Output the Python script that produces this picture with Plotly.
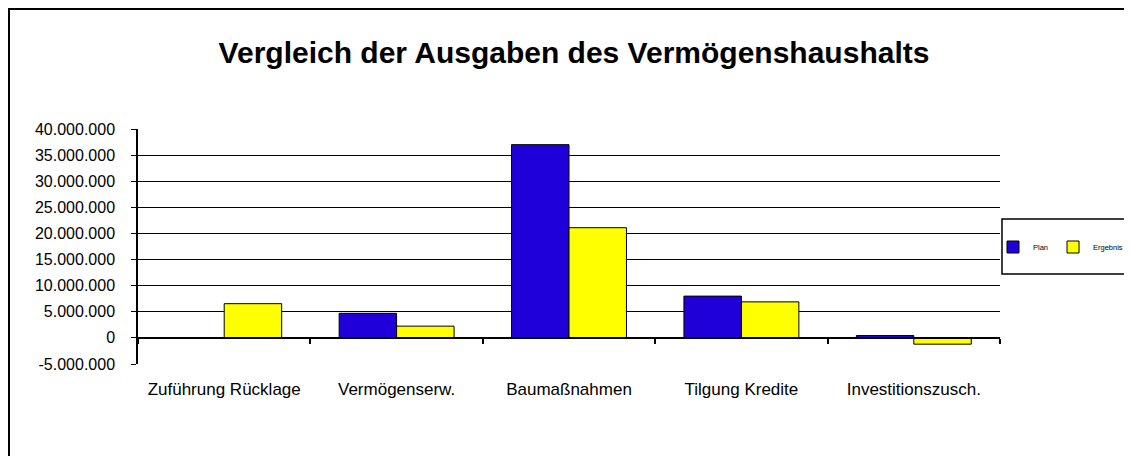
import plotly.graph_objects as go

categories = ["Zuführung Rücklage", "Vermögenserw.", "Baumaßnahmen", "Tilgung Kredite", "Investitionszusch."]
plan = [0, 4700000, 37000000, 8000000, 450000]
ergebnis = [6550000, 2250000, 21100000, 6900000, -1200000]
y_tickvals = [-5000000, 0, 5000000, 10000000, 15000000, 20000000, 25000000, 30000000, 35000000, 40000000]
y_ticktext = ["-5.000.000", "0", "5.000.000", "10.000.000", "15.000.000", "20.000.000",
              "25.000.000", "30.000.000", "35.000.000", "40.000.000"]

# the page body adds an 8px margin; the figure is sized/placed to compensate
OFF = 8
W, H = 1132 - OFF, 456 - OFF
L, R, T, B = 138 - OFF, 132, 129 - OFF, 92
pw, ph = W - L - R, H - T - B

def px_x(p):  # reference screen pixel -> paper x
    return (p - OFF - L) / pw

def px_y(p):  # reference screen pixel -> paper y
    return (H - B - (p - OFF)) / ph

font = "Liberation Sans, Arial, sans-serif"

fig = go.Figure()
fig.add_trace(go.Bar(name="Plan", x=categories, y=plan,
                     marker=dict(color="#2000D8", line=dict(color="black", width=1))))
fig.add_trace(go.Bar(name="Ergebnis", x=categories, y=ergebnis,
                     marker=dict(color="#FFFF00", line=dict(color="black", width=1))))

fig.update_layout(
    width=W, height=H,
    margin=dict(l=L, r=R, t=T, b=B, autoexpand=False),
    paper_bgcolor="white", plot_bgcolor="white",
    barmode="group", bargap=1/3, bargroupgap=0,
    font=dict(family=font, color="black"),
    title=dict(text="<b>Vergleich der Ausgaben des Vermögenshaushalts</b>",
               x=px_x(574), xref="paper", xanchor="center",
               y=1 - (52 - OFF) / H, yref="container", yanchor="middle",
               font=dict(size=30, family=font, color="black")),
    showlegend=True,
    legend=dict(orientation="h", x=px_x(1128), xanchor="right", y=px_y(247), yanchor="middle",
                xref="paper", yref="paper", bgcolor="rgba(0,0,0,0)", borderwidth=0,
                font=dict(size=7.5, family=font), itemwidth=30, traceorder="normal",
                tracegroupgap=0),
    xaxis=dict(type="category", anchor="free", position=5/45,
               showline=True, linecolor="black", linewidth=1.5,
               ticks="outside", ticklen=5, tickcolor="black", tickwidth=1.5,
               tickson="boundaries", showgrid=False, zeroline=False,
               ticklabelstandoff=36,
               tickfont=dict(size=17, family=font, color="black")),
    yaxis=dict(range=[-5000000, 40000000], tickvals=y_tickvals, ticktext=y_ticktext,
               showline=True, linecolor="black", linewidth=1.5,
               ticks="outside", ticklen=5, tickcolor="black", tickwidth=1,
               showgrid=True, gridcolor="black", gridwidth=1,
               zeroline=False, ticklabelstandoff=13,
               tickfont=dict(size=16, family=font, color="black")),
    shapes=[
        dict(type="rect", xref="paper", yref="paper",
             x0=px_x(1002), x1=px_x(1126), y0=px_y(274), y1=px_y(219),
             line=dict(color="black", width=1.5), fillcolor="white", layer="below"),
        dict(type="rect", xref="paper", yref="paper",
             x0=px_x(9), x1=px_x(1145), y0=px_y(470), y1=px_y(9),
             line=dict(color="black", width=2), fillcolor="rgba(0,0,0,0)", layer="below"),
    ],
)

fig.write_html("out.html")
